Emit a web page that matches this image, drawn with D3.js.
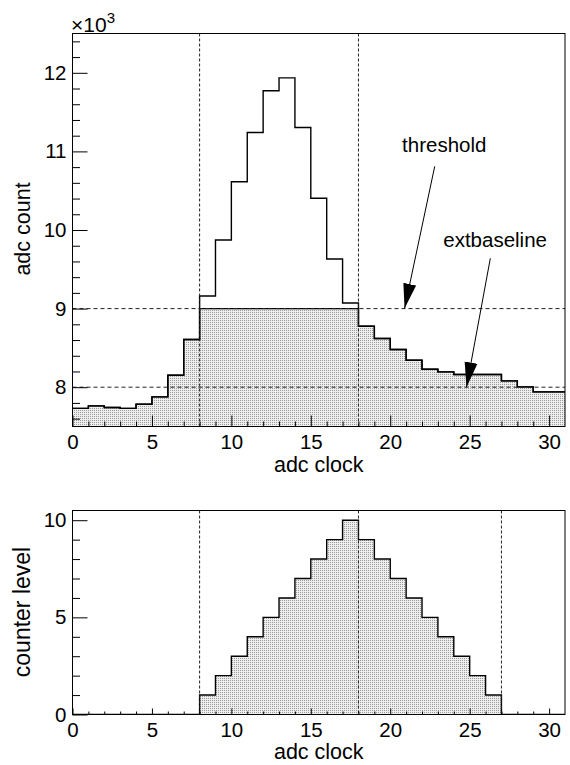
<!DOCTYPE html>
<html>
<head>
<meta charset="utf-8">
<script src="https://cdn.jsdelivr.net/npm/d3@7"></script>
<style>
  body { margin: 0; background: #fff; }
  text { font-family: "Liberation Sans", Arial, Helvetica, sans-serif; fill: #000; }
</style>
</head>
<body>
<div id="my_dataviz"></div>
<script>
// adc samples per clock bin (0..30)
const adcCount = [7730, 7762, 7742, 7730, 7784, 7877, 8152, 8606, 9160, 9873,
  10614, 11241, 11771, 11936, 11305, 10403, 9631, 9072, 8775, 8619,
  8479, 8343, 8229, 8195, 8161, 8161, 8161, 8080, 8004, 7940, 7940];
// counter level per clock bin
const counterLevel = [0, 0, 0, 0, 0, 0, 0, 0, 1, 2,
  3, 4, 5, 6, 7, 8, 9, 10, 9, 8,
  7, 6, 5, 4, 3, 2, 1, 0, 0, 0, 0];
const threshold = 9000;
const extBaseline = 8000;
const topMarkers = [8, 18];
const bottomMarkers = [8, 18, 27];
const xTicksMajor = [0, 5, 10, 15, 20, 25, 30];
const yTopTicks = [8000, 9000, 10000, 11000, 12000];
const yBotTicks = [0, 5, 10];
// annotation: label, text anchor [clock, count], arrow start, arrow tip
const annotations = [
  { label: "threshold", text: [23.4, 10990], from: [22.8, 10810], to: [20.9, 9000] },
  { label: "extbaseline", text: [26.6, 9780], from: [26.3, 9640], to: [24.8, 8000] }
];

const W = 570, H = 765;
const svg = d3.select("#my_dataviz").append("svg")
  .attr("width", W).attr("height", H);

const defs = svg.append("defs");
const pat = defs.append("pattern").attr("id", "dots")
  .attr("width", 2).attr("height", 2).attr("patternUnits", "userSpaceOnUse");
pat.append("rect").attr("width", 2).attr("height", 2).attr("fill", "#eeeeee");
pat.append("rect").attr("width", 1).attr("height", 1).attr("fill", "#9a9a9a");

defs.append("marker").attr("id", "head")
  .attr("markerUnits", "userSpaceOnUse")
  .attr("viewBox", "0 -7 25 14")
  .attr("markerWidth", 25).attr("markerHeight", 14)
  .attr("refX", 25).attr("refY", 0).attr("orient", "auto")
  .append("path").attr("d", "M0,-6.5L25,0L0,6.5Z").attr("fill", "#000");

const xLeft = 72.5, xRight = 565;
const x = d3.scaleLinear().domain([0, 31]).range([xLeft, xRight]);
const bins = d3.range(32);

// step helpers: value at bin i for i = 0..30, repeated at 31 to close the last bin
const stepPts = (vals) => bins.map(i => [i, vals[Math.min(i, vals.length - 1)]]);

const drawPanel = function (opts) {
  const { y, top, bottom, xMajorLen, xMinorLen, yMinor, yTicks, yFmt } = opts;
  const g = svg.append("g");
  const clipId = "clip" + opts.id;
  defs.append("clipPath").attr("id", clipId).append("rect")
    .attr("x", xLeft).attr("y", top).attr("width", xRight - xLeft).attr("height", bottom - top);
  const plot = g.append("g").attr("clip-path", "url(#" + clipId + ")");

  // shaded histogram
  const area = d3.area().curve(d3.curveStepAfter)
    .x(d => x(d[0])).y0(y(y.domain()[0])).y1(d => y(d[1]));
  const line = d3.line().curve(d3.curveStepAfter)
    .x(d => x(d[0])).y(d => y(d[1]));
  plot.append("path").datum(stepPts(opts.fillVals))
    .attr("d", area).attr("fill", "url(#dots)");
  plot.append("path").datum(stepPts(opts.fillVals))
    .attr("d", line).attr("fill", "none").attr("stroke", "#000").attr("stroke-width", 1.4);
  if (opts.lineVals) {
    plot.append("path").datum(stepPts(opts.lineVals))
      .attr("d", line).attr("fill", "none").attr("stroke", "#000").attr("stroke-width", 1.4);
  }

  // dashed reference lines
  (opts.hLines || []).forEach(v => {
    plot.append("line").attr("x1", xLeft).attr("x2", xRight)
      .attr("y1", y(v)).attr("y2", y(v))
      .attr("stroke", "#222").attr("stroke-dasharray", "4,3");
  });
  opts.vLines.forEach(v => {
    plot.append("line").attr("x1", x(v)).attr("x2", x(v))
      .attr("y1", top).attr("y2", bottom)
      .attr("stroke", "#222").attr("stroke-dasharray", "3,2");
  });

  // x axis (ticks pointing into the frame)
  g.append("g").attr("transform", "translate(0," + bottom + ")")
    .call(d3.axisBottom(x).tickValues(xTicksMajor).tickSizeInner(-xMajorLen).tickSizeOuter(0).tickPadding(7.5));
  g.append("g").attr("transform", "translate(0," + bottom + ")")
    .call(d3.axisBottom(x).tickValues(d3.range(1, 31).filter(d => d % 5 !== 0))
      .tickSizeInner(-xMinorLen).tickSizeOuter(0).tickFormat(""));

  g.append("g").attr("transform", "translate(" + xLeft + ",0)")
    .call(d3.axisLeft(y).tickValues(yTicks).tickSizeInner(-15).tickSizeOuter(0).tickPadding(6).tickFormat(yFmt));
  g.append("g").attr("transform", "translate(" + xLeft + ",0)")
    .call(d3.axisLeft(y).tickValues(yMinor).tickSizeInner(-7.5).tickSizeOuter(0).tickFormat(""));

  g.selectAll(".domain").remove();
  g.selectAll(".tick line").attr("stroke", "#000");
  g.selectAll(".tick text").attr("font-size", 20.5).style("font-family", "Liberation Sans, Arial, sans-serif");

  // frame
  g.append("rect").attr("x", xLeft).attr("y", top)
    .attr("width", xRight - xLeft).attr("height", bottom - top)
    .attr("fill", "none").attr("stroke", "#000").attr("stroke-width", 1);

  // titles
  g.append("text").attr("x", (xLeft + xRight) / 2).attr("y", opts.xTitleY)
    .attr("text-anchor", "middle").attr("font-size", 21.5).text("adc clock");
  g.append("text")
    .attr("transform", "translate(30," + opts.yTitleMid + ") rotate(-90)")
    .attr("text-anchor", "middle").attr("font-size", opts.yTitleSize).text(opts.yTitle);
  return g;
};

// top panel: adc count
const yTop = d3.scaleLinear().domain([7500, 12500]).range([426.5, 33.5]);
const gTop = drawPanel({
  id: "top", y: yTop, top: 33.5, bottom: 426.5,
  xMajorLen: 11, xMinorLen: 5,
  yTicks: yTopTicks, yMinor: d3.range(7600, 12500, 200).filter(d => d % 1000 !== 0),
  yFmt: d => d / 1000,
  fillVals: adcCount.map(v => Math.min(v, threshold)),
  lineVals: adcCount,
  hLines: [threshold, extBaseline], vLines: topMarkers,
  xTitleY: 472, yTitle: "adc count", yTitleMid: 229, yTitleSize: 21.5
});

// x10^3 multiplier
const mult = gTop.append("text").attr("x", 71).attr("y", 31.5).attr("font-size", 21);
mult.append("tspan").text("×10");
mult.append("tspan").attr("font-size", 15).attr("dy", -9).text("3");

// arrows and labels
annotations.forEach(a => {
  gTop.append("text").attr("x", x(a.text[0])).attr("y", yTop(a.text[1]))
    .attr("text-anchor", "middle").attr("font-size", 20.5).text(a.label);
  gTop.append("line")
    .attr("x1", x(a.from[0])).attr("y1", yTop(a.from[1]))
    .attr("x2", x(a.to[0])).attr("y2", yTop(a.to[1]))
    .attr("stroke", "#000").attr("stroke-width", 1)
    .attr("marker-end", "url(#head)");
});

// bottom panel: counter level
const yBot = d3.scaleLinear().domain([0, 10.5]).range([714.5, 510.5]);
drawPanel({
  id: "bot", y: yBot, top: 510.5, bottom: 714.5,
  xMajorLen: 6, xMinorLen: 3,
  yTicks: yBotTicks, yMinor: d3.range(1, 11).filter(d => d % 5 !== 0),
  yFmt: d3.format("d"),
  fillVals: counterLevel,
  vLines: bottomMarkers,
  xTitleY: 759, yTitle: "counter level", yTitleMid: 612, yTitleSize: 23
});
</script>
</body>
</html>
